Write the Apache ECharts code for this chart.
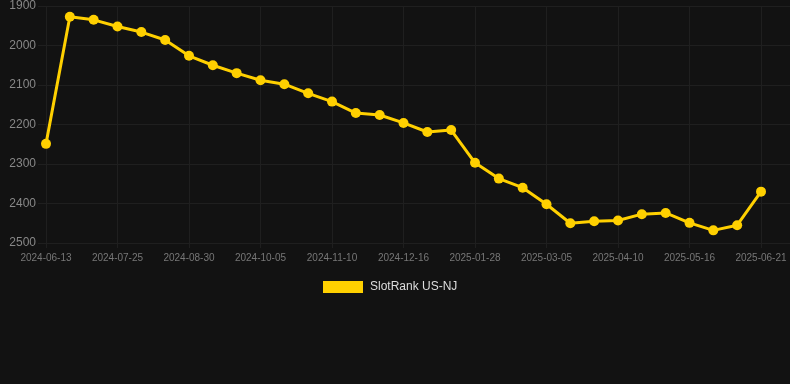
<!DOCTYPE html>
<html>
<head>
<meta charset="utf-8">
<script src="https://cdn.jsdelivr.net/npm/echarts@6/dist/echarts.min.js"></script>
<style>
html,body{margin:0;padding:0;background:#121212;}
#c{width:790px;height:384px;}
</style>
</head>
<body>
<div id="c"></div>
<script>
var dates = ["2024-06-13","2024-06-27","2024-07-11","2024-07-25","2024-08-06","2024-08-18","2024-08-30","2024-09-11","2024-09-23","2024-10-05","2024-10-17","2024-10-29","2024-11-10","2024-11-22","2024-12-04","2024-12-16","2024-12-30","2025-01-13","2025-01-28","2025-02-09","2025-02-21","2025-03-05","2025-03-17","2025-03-29","2025-04-10","2025-04-22","2025-05-04","2025-05-16","2025-05-28","2025-06-09","2025-06-21"];
var ranks = [2249,1927,1935,1952,1966,1986,2026,2050,2070,2088,2098,2121,2142,2171,2176,2196,2219,2214,2297,2337,2360,2402,2450,2445,2443,2427,2424,2449,2468,2455,2370];
var seriesName = "SlotRank US-NJ";
var yMin = 1900, yMax = 2500, yStep = 100;

var chart = echarts.init(document.getElementById('c'), null, {renderer:'canvas'});
var gridColor = '#1f1f1f';
chart.setOption({
  backgroundColor: '#121212',
  animation: false,
  textStyle: {fontFamily: 'Liberation Sans, Arial, sans-serif'},
  legend: {
    data: [seriesName],
    top: 276, left: 318,
    itemWidth: 40, itemHeight: 12, icon: 'rect', itemGap: 10,
    textStyle: {color: '#dddddd', fontSize: 12, padding: [0,0,0,2]}
  },
  grid: [
    {left: 38, right: 0, top: 6, bottom: 141},
    {left: 46, right: 29, top: 6, bottom: 141}
  ],
  xAxis: [
    {gridIndex: 0, type: 'value', show: false, min: 0, max: 1},
    {gridIndex: 1, type: 'category', data: dates, boundaryGap: false,
     axisLine: {show: false},
     axisTick: {show: true, interval: 2, length: 5, lineStyle: {color: gridColor}},
     axisLabel: {interval: 2, color: '#777777', fontSize: 10, margin: 10},
     splitLine: {show: true, interval: 2, lineStyle: {color: gridColor}}}
  ],
  yAxis: [
    {gridIndex: 0, type: 'value', inverse: true, min: yMin, max: yMax, interval: yStep,
     axisLine: {show: false}, axisTick: {show: false},
     axisLabel: {color: '#888888', fontSize: 12, margin: 2, formatter: function(v){return String(v);}},
     splitLine: {show: true, lineStyle: {color: gridColor}}},
    {gridIndex: 1, type: 'value', inverse: true, min: yMin, max: yMax, interval: yStep, show: false,
     splitLine: {show: false}}
  ],
  series: [{
    name: seriesName, type: 'line', xAxisIndex: 1, yAxisIndex: 1,
    data: ranks,
    color: '#FFD000',
    lineStyle: {width: 3, color: '#FFD000'},
    itemStyle: {color: '#FFD000'},
    symbol: 'circle', symbolSize: 10, showSymbol: true
  }]
});
</script>
</body>
</html>
